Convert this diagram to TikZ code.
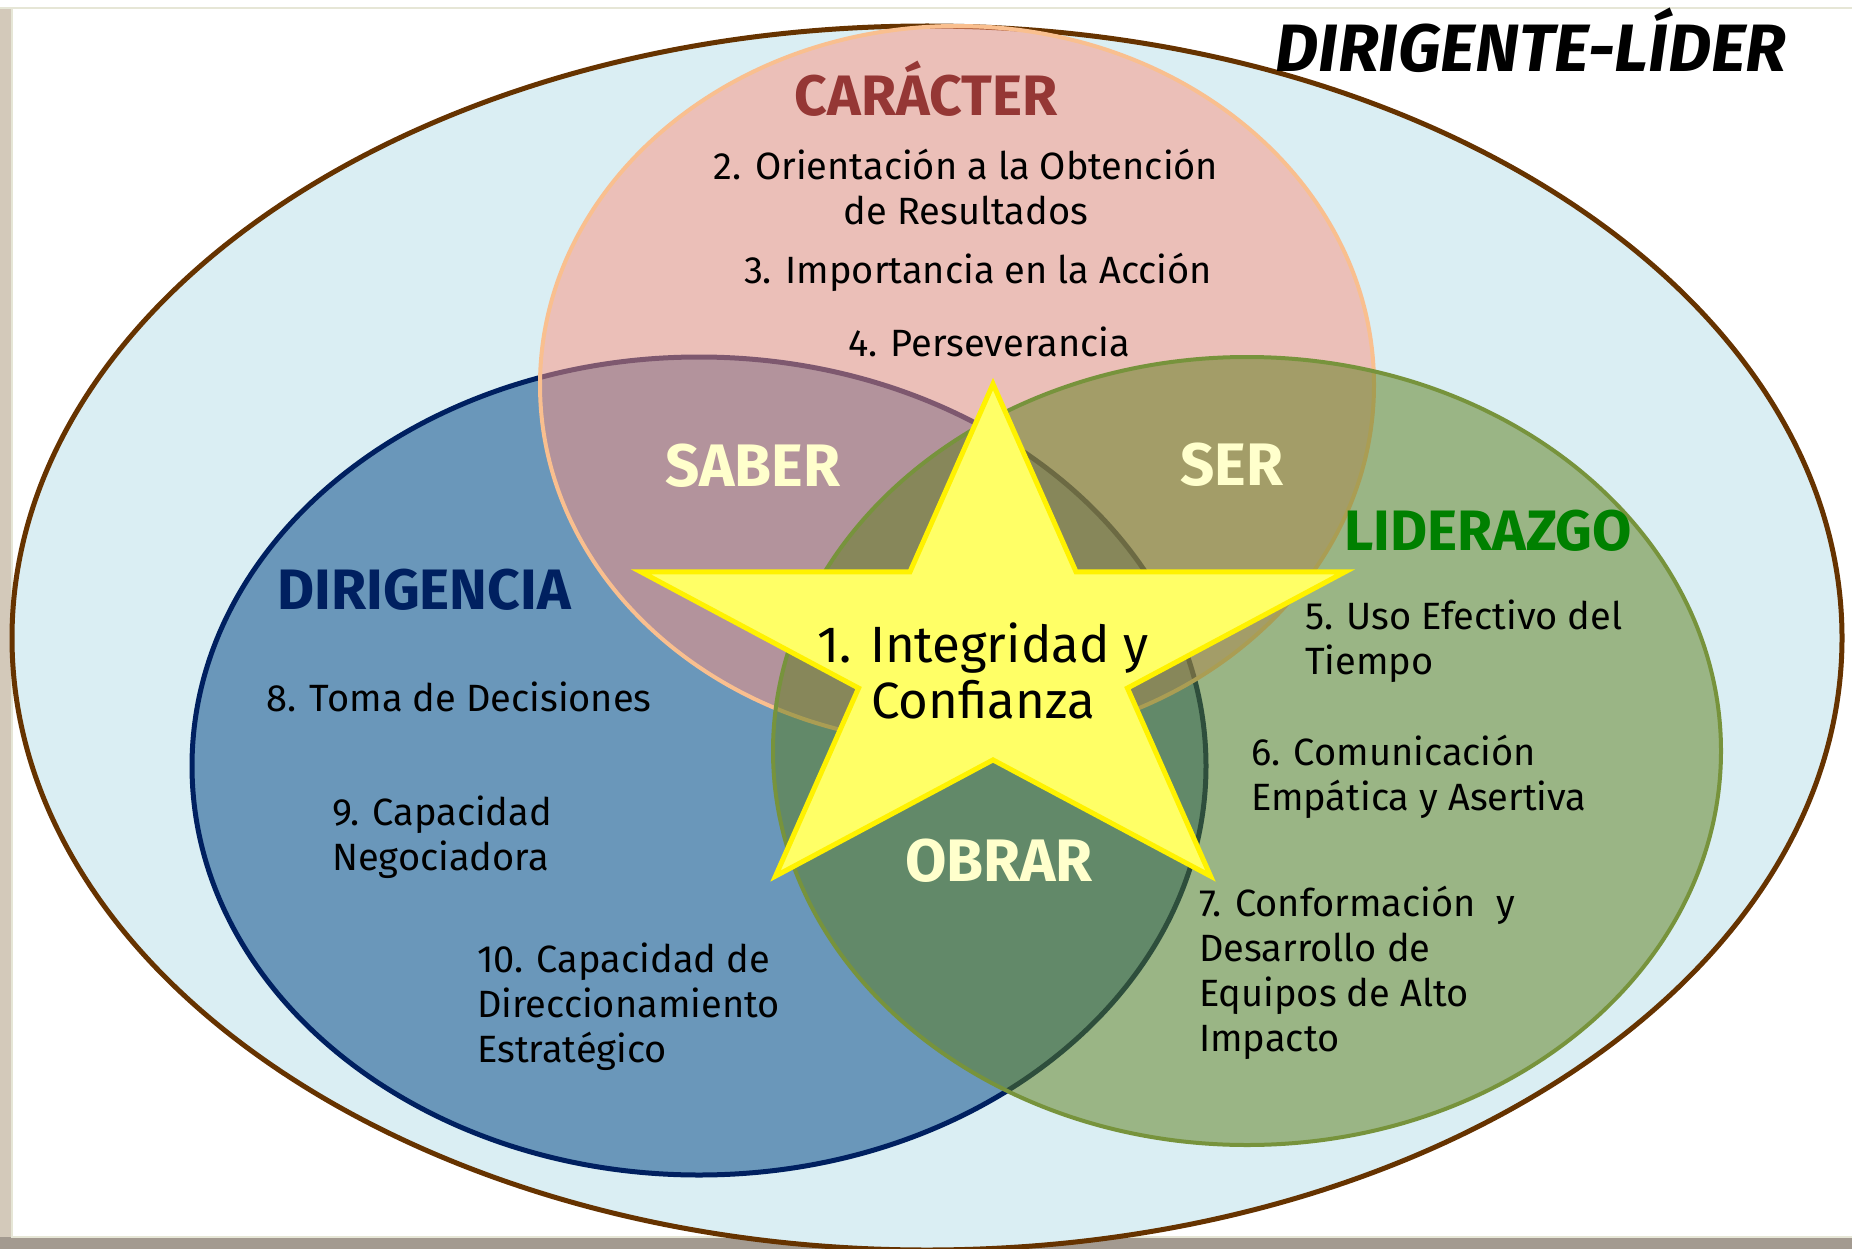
\documentclass[tikz,border=0pt]{standalone}
\usepackage{fontspec}
\setmainfont{Fira Sans}
\usetikzlibrary{shapes.geometric}

\definecolor{marco}{HTML}{D3C9BA}
\definecolor{sombra}{HTML}{A39A90}
\definecolor{filo}{HTML}{E6E6D6}
\definecolor{cielo}{HTML}{DAEEF3}
\definecolor{cafe}{HTML}{663300}
\definecolor{azulf}{HTML}{6A97BA}
\definecolor{azulb}{HTML}{002060}
\definecolor{rosaf}{HTML}{FC917F}
\definecolor{rosab}{HTML}{F9BF8F}
\definecolor{verdef}{HTML}{5C7D19}
\definecolor{verdeb}{HTML}{77933C}
\definecolor{estrellaf}{HTML}{FFFF66}
\definecolor{crema}{HTML}{FFFFCC}
\definecolor{rojo}{HTML}{953735}
\definecolor{verdet}{HTML}{008000}

\begin{document}
\begin{tikzpicture}[x=1pt,y=-1pt,
  circulo/.style={ellipse,inner sep=0pt},
  titulo/.style={font=\fontsize{57}{62}\selectfont\bfseries},
  zona/.style={text=crema,font=\fontsize{60}{66}\selectfont\bfseries},
  item/.style={font=\fontsize{38}{45}\selectfont,align=left,anchor=west,inner sep=0pt}]

\useasboundingbox (0,0) rectangle (1852,1249);
\fill [white] (0,0) rectangle (1852,1249);
\fill [marco] (0,8) rectangle (11,1249);
\fill [sombra] (0,1237) rectangle (1852,1249);
\draw [filo,line width=2pt] (0,8) -- (1852,8);
\draw [filo,line width=2pt] (12,8) -- (12,1237) -- (1852,1237);

% elipses
\node [circulo,draw=cafe,line width=5pt,fill=cielo,minimum width=1830pt,minimum height=1224pt] (dirigente) at (927,638) {};
\node [circulo,draw=azulb,line width=5pt,fill=azulf,minimum width=1014pt,minimum height=818pt] (dirigencia) at (699,766) {};
\node [circulo,draw=rosab,line width=4pt,fill=rosaf,fill opacity=0.5,minimum width=834pt,minimum height=718pt] (caracter) at (957,385) {};
\node [circulo,draw=verdeb,line width=4pt,fill=verdef,fill opacity=0.5,minimum width=948pt,minimum height=788pt] (liderazgo) at (1247,751) {};

% estrella
\draw [fill=estrellaf,draw=yellow,line width=5pt,line join=miter]
  (993,384) \foreach \i in {1,...,5} {
    -- ({993+0.382*370*cos(90+72*\i-36)},{656-0.382*272*sin(90+72*\i-36)})
    -- ({993+370*cos(90+72*\i)},{656-272*sin(90+72*\i)}) } -- cycle;

% titulos
\node [font=\fontsize{67}{72}\selectfont\bfseries\itshape] (titulo) at (1531,40) {DIRIGENTE-LÍDER};
\node [titulo,text=rojo] (tcaracter) at (926,89) {CARÁCTER};
\node [titulo,text=verdet] (tliderazgo) at (1488,531) {LIDERAZGO};
\node [titulo,text=azulb] (tdirigencia) at (424,590) {DIRIGENCIA};
\node [zona] (saber) at (753,466) {SABER};
\node [zona] (ser) at (1232,465) {SER};
\node [zona] (obrar) at (999,861) {OBRAR};

% competencias
\node [font=\fontsize{51}{56}\selectfont,align=center] (integridad) at (983,671) {1. Integridad y\\Confianza};
\node [item,anchor=center,align=center] (orientacion) at (966,187) {2. Orientación a la Obtención\\de Resultados};
\node [item,anchor=center] (importancia) at (978,272) {3. Importancia en la Acción};
\node [item,anchor=center] (perseverancia) at (989,342) {4. Perseverancia};
\node [item] (uso) at (1305,641) {5. Uso Efectivo del\\Tiempo};
\node [item] (comunicacion) at (1251,777) {6. Comunicación\\Empática y Asertiva};
\node [item] (conformacion) at (1199,973) {7. Conformación\ \ y\\Desarrollo de\\Equipos de Alto\\Impacto};
\node [item] (decisiones) at (266,697) {8. Toma de Decisiones};
\node [item] (negociadora) at (332,837) {9. Capacidad\\Negociadora};
\node [item] (direccionamiento) at (477,1007) {10. Capacidad de\\Direccionamiento\\Estratégico};
\end{tikzpicture}
\end{document}
